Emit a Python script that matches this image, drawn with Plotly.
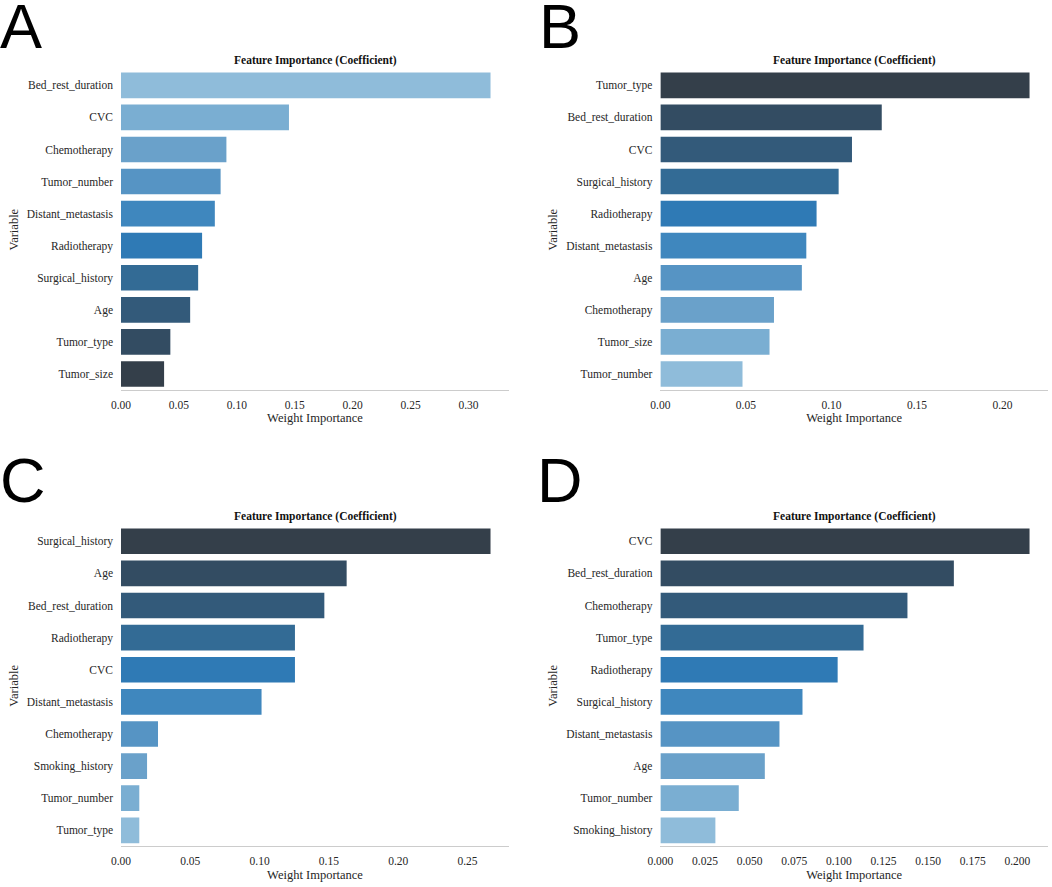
import plotly.graph_objects as go

W, H = 1052, 887

# ---------------- data ----------------
a_vars = ["Bed_rest_duration", "CVC", "Chemotherapy", "Tumor_number", "Distant_metastasis",
          "Radiotherapy", "Surgical_history", "Age", "Tumor_type", "Tumor_size"]
a_vals = [0.319, 0.145, 0.091, 0.086, 0.081, 0.070, 0.0666, 0.0597, 0.0426, 0.0372]

b_vars = ["Tumor_type", "Bed_rest_duration", "CVC", "Surgical_history", "Radiotherapy",
          "Distant_metastasis", "Age", "Chemotherapy", "Tumor_size", "Tumor_number"]
b_vals = [0.2158, 0.1294, 0.1120, 0.1042, 0.0913, 0.0853, 0.0827, 0.0664, 0.0638, 0.0480]

c_vars = ["Surgical_history", "Age", "Bed_rest_duration", "Radiotherapy", "CVC",
          "Distant_metastasis", "Chemotherapy", "Smoking_history", "Tumor_number", "Tumor_type"]
c_vals = [0.2666, 0.1628, 0.1467, 0.1255, 0.1255, 0.1014, 0.0267, 0.0188, 0.0132, 0.0132]

d_vars = ["CVC", "Bed_rest_duration", "Chemotherapy", "Tumor_type", "Radiotherapy",
          "Surgical_history", "Distant_metastasis", "Age", "Tumor_number", "Smoking_history"]
d_vals = [0.2068, 0.1644, 0.1384, 0.1138, 0.0993, 0.0796, 0.0667, 0.0585, 0.0439, 0.0308]

panel_letters = ["A", "B", "C", "D"]
chart_title = "Feature Importance (Coefficient)"
x_label = "Weight Importance"
y_label = "Variable"

# ---------------- style ----------------
palette = ["#8fbcda", "#7aaed2", "#6aa1ca", "#5694c4", "#3f87be",
           "#2f7ab5", "#336b95", "#335a7a", "#334c62", "#343f4a"]
TEXT = "#262626"
SERIF = "Liberation Serif"

panels = [
    dict(vars=a_vars, vals=a_vals, colors=palette, dtick=0.05, fmt=".2f",
         x0=121, x1=509, y0=69.3, y1=390),
    dict(vars=b_vars, vals=b_vals, colors=palette[::-1], dtick=0.05, fmt=".2f",
         x0=660.4, x1=1048, y0=69.3, y1=390),
    dict(vars=c_vars, vals=c_vals, colors=palette[::-1], dtick=0.05, fmt=".2f",
         x0=121, x1=509, y0=525.2, y1=846.4),
    dict(vars=d_vars, vals=d_vals, colors=palette[::-1], dtick=0.025, fmt=".3f",
         x0=660.4, x1=1048, y0=525.2, y1=846.4),
]
letter_pos = [(21, 26), (560, 26), (23, 480), (560, 480)]

fig = go.Figure()
layout = dict(
    width=W, height=H,
    margin=dict(l=0, r=0, t=0, b=0),
    paper_bgcolor="white", plot_bgcolor="white",
    showlegend=False,
    font=dict(family=SERIF, color=TEXT, size=11.5),
    bargap=0.2,
)
annotations = []

for i, p in enumerate(panels):
    k = "" if i == 0 else str(i + 1)
    fig.add_trace(go.Bar(
        x=p["vals"], y=p["vars"], orientation="h",
        marker=dict(color=p["colors"], line=dict(width=0)),
        width=0.8,
        xaxis="x" + k, yaxis="y" + k,
        hoverinfo="x+y",
    ))
    n = len(p["vars"])
    layout["xaxis" + k] = dict(
        domain=[p["x0"] / W, p["x1"] / W],
        anchor="y" + k,
        range=[0, max(p["vals"]) * 1.05],
        dtick=p["dtick"], tick0=0, tickformat=p["fmt"],
        showgrid=False, zeroline=False,
        showline=True, linecolor="#cccccc", linewidth=1.25,
        ticks="", ticklabelstandoff=4,
        tickfont=dict(family=SERIF, size=11.5, color=TEXT),
        title=dict(text=x_label, font=dict(family=SERIF, size=12.5, color=TEXT), standoff=3),
        automargin=False, fixedrange=True,
    )
    layout["yaxis" + k] = dict(
        domain=[1 - p["y1"] / H, 1 - p["y0"] / H],
        anchor="x" + k,
        type="category",
        categoryorder="array", categoryarray=p["vars"],
        range=[n - 0.5, -0.5],
        showgrid=False, zeroline=False, showline=False,
        ticks="", ticklabelstandoff=7,
        tickfont=dict(family=SERIF, size=11.5, color=TEXT),
        title=dict(text=y_label, font=dict(family=SERIF, size=12.5, color=TEXT), standoff=5),
        automargin=False, fixedrange=True,
    )
    annotations.append(dict(
        text="<b>" + chart_title + "</b>",
        xref="x" + k + " domain", yref="y" + k + " domain",
        x=0.5, y=1, xanchor="center", yanchor="bottom", yshift=0,
        showarrow=False, font=dict(family=SERIF, size=11.5, color="#111111"),
    ))
    lx, ly = letter_pos[i]
    annotations.append(dict(
        text=panel_letters[i], xref="paper", yref="paper",
        x=lx / W, y=1 - ly / H, xanchor="center", yanchor="middle",
        height=50, valign="middle", borderpad=0,
        showarrow=False, font=dict(family="Liberation Sans", size=63, color="black"),
    ))

layout["annotations"] = annotations
fig.update_layout(**layout)
fig.write_html("out.html", config={"displayModeBar": False},
               post_script="document.body.style.margin='0px';")
